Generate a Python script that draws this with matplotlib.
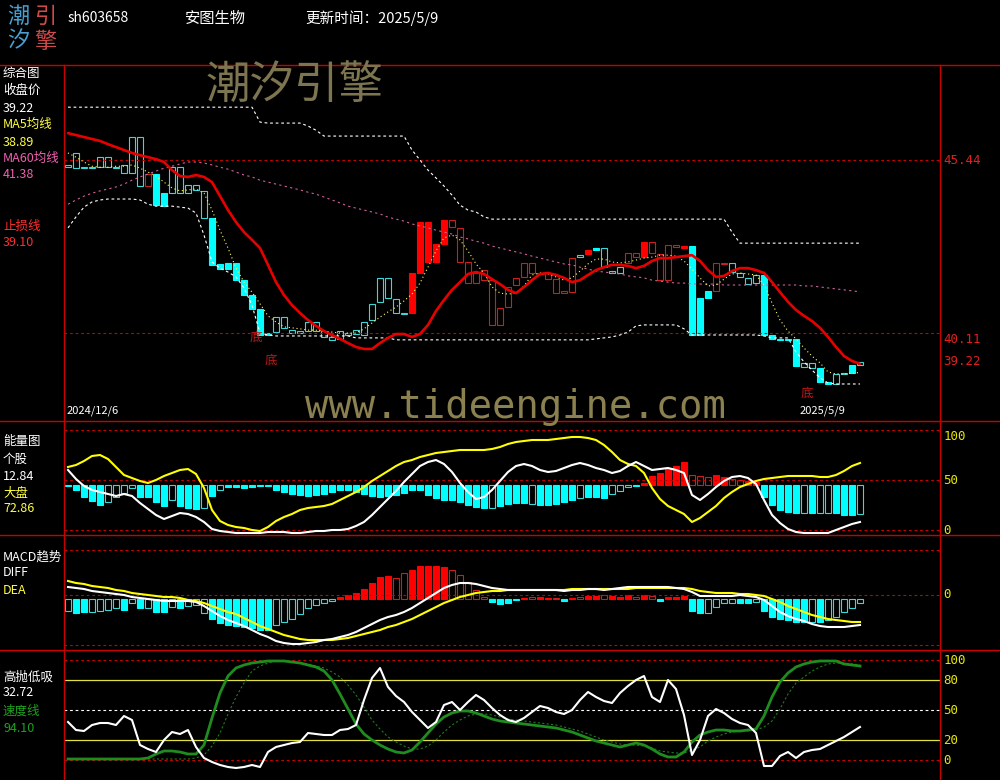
import numpy as np
import matplotlib
matplotlib.use("Agg")
import matplotlib.pyplot as plt
from matplotlib.lines import Line2D

plt.rcParams['font.family'] = ['Noto Sans CJK SC', 'DejaVu Sans']

# ---------------- data ----------------
code = "sh603658"
name = "安图生物"
first_date = "2024/12/6"
last_date = "2025/5/9"

# candle bodies (no wicks shown): upper / lower edge of each body
body_hi = [45.29, 45.66, 45.22, 45.22, 45.53, 45.53, 45.22, 45.29, 46.15, 46.15,
           45.01, 45.01, 44.42, 45.22, 45.22, 44.67, 44.67, 44.49, 43.65, 42.24,
           42.27, 42.27, 41.74, 41.28, 40.85, 40.11, 40.60, 40.60, 40.20, 40.17,
           40.45, 40.45, 40.17, 39.99, 40.17, 40.11, 40.20, 40.45, 41.01, 41.81,
           41.81, 41.16, 40.73, 41.96, 43.53, 43.53, 42.85, 43.59, 43.59, 43.35,
           42.30, 41.96, 42.05, 41.74, 40.88, 41.53, 41.81, 42.27, 42.27, 41.96,
           41.96, 41.77, 41.41, 42.42, 42.51, 42.67, 42.73, 42.73, 42.02, 42.14,
           42.58, 42.58, 42.91, 42.91, 42.55, 42.82, 42.82, 42.79, 42.79, 41.19,
           41.41, 42.27, 42.27, 42.27, 41.96, 41.81, 41.90, 41.90, 40.05, 39.93,
           39.93, 39.93, 39.19, 39.19, 39.03, 38.60, 38.85, 38.88, 39.13, 39.22]
body_lo = [45.22, 45.19, 45.19, 45.19, 45.22, 45.22, 45.19, 45.04, 45.04, 44.64,
           44.64, 44.05, 44.02, 44.42, 44.42, 44.42, 44.52, 43.65, 42.21, 42.08,
           42.08, 41.74, 41.28, 40.85, 40.05, 40.05, 40.14, 40.27, 40.11, 40.11,
           40.17, 40.17, 39.99, 39.90, 39.93, 40.05, 40.08, 40.05, 40.51, 41.07,
           41.19, 40.73, 40.70, 40.73, 41.96, 42.30, 42.30, 42.85, 43.38, 42.30,
           41.65, 41.65, 41.74, 40.36, 40.36, 40.91, 41.59, 41.84, 41.96, 41.93,
           41.77, 41.34, 41.34, 41.37, 42.45, 42.55, 42.67, 42.14, 41.96, 41.96,
           42.27, 42.45, 42.45, 42.58, 41.74, 41.74, 42.76, 42.73, 40.05, 40.05,
           41.19, 41.41, 42.24, 41.99, 41.84, 41.62, 41.65, 40.05, 39.93, 39.90,
           39.90, 39.10, 39.06, 39.03, 38.60, 38.54, 38.54, 38.85, 38.88, 39.13]
# C = cyan filled, c = cyan hollow, R = red filled, r = red hollow
kline_style = ("cccccccccc" "rCCcccccCC" "CCCCCCcccc" "cccccccccc" "cccRRRRRrr"
               "rrrrrrrrrr" "rrrrcRCccc" "rrRrrrrRCC" "CrrccccCCC" "CCccCCccCc")

trend_line = [46.27, 46.21, 46.15, 46.09, 46.03, 45.93, 45.84, 45.75, 45.66, 45.59,
              45.53, 45.47, 45.38, 45.13, 44.95, 44.92, 44.98, 44.92, 44.76, 44.33,
              43.90, 43.53, 43.22, 42.98, 42.73, 42.21, 41.68, 41.28, 40.97, 40.73,
              40.51, 40.33, 40.17, 40.05, 39.93, 39.80, 39.68, 39.62, 39.62, 39.80,
              39.96, 40.08, 40.08, 39.99, 40.08, 40.36, 40.79, 41.13, 41.44, 41.68,
              41.93, 41.99, 41.93, 41.77, 41.62, 41.44, 41.34, 41.53, 41.74, 41.93,
              41.96, 41.90, 41.81, 41.68, 41.74, 41.90, 42.05, 42.14, 42.21, 42.21,
              42.18, 42.11, 42.18, 42.33, 42.42, 42.42, 42.45, 42.48, 42.51, 42.33,
              42.05, 41.84, 41.87, 42.02, 42.11, 42.11, 42.05, 41.96, 41.68, 41.37,
              41.07, 40.82, 40.64, 40.48, 40.27, 39.99, 39.68, 39.40, 39.25, 39.16]
ma5 = [45.66, 45.53, 45.38, 45.25, 45.22, 45.22, 45.25, 45.25, 45.29, 45.19,
       45.07, 44.95, 44.76, 44.58, 44.49, 44.52, 44.55, 44.42, 43.90, 43.28,
       42.73, 42.11, 41.68, 41.37, 41.01, 40.64, 40.45, 40.30, 40.27, 40.24,
       40.20, 40.20, 40.17, 40.14, 40.11, 40.11, 40.11, 40.24, 40.42, 40.60,
       40.76, 40.91, 41.10, 41.31, 41.65, 42.14, 42.64, 43.04, 43.13, 42.98,
       42.64, 42.24, 41.96, 41.53, 41.34, 41.31, 41.34, 41.56, 41.90, 41.96,
       41.93, 41.84, 41.74, 41.81, 42.02, 42.24, 42.39, 42.39, 42.30, 42.27,
       42.30, 42.36, 42.42, 42.45, 42.51, 42.51, 42.48, 42.33, 42.08, 41.81,
       41.56, 41.59, 41.77, 41.93, 41.96, 41.93, 41.90, 41.59, 41.04, 40.51,
       40.17, 39.93, 39.65, 39.40, 39.19, 38.91, 38.85, 38.85, 38.88, 38.89]
ma60 = [44.08, 44.21, 44.33, 44.42, 44.49, 44.55, 44.61, 44.70, 44.82, 44.92,
        45.01, 45.10, 45.19, 45.25, 45.32, 45.38, 45.38, 45.35, 45.29, 45.22,
        45.16, 45.07, 44.98, 44.92, 44.82, 44.76, 44.70, 44.64, 44.58, 44.52,
        44.45, 44.39, 44.30, 44.21, 44.12, 44.02, 43.96, 43.90, 43.84, 43.78,
        43.68, 43.62, 43.56, 43.47, 43.41, 43.35, 43.28, 43.22, 43.16, 43.07,
        43.01, 42.94, 42.88, 42.79, 42.73, 42.67, 42.61, 42.55, 42.48, 42.42,
        42.36, 42.30, 42.24, 42.21, 42.14, 42.08, 42.02, 41.99, 41.96, 41.93,
        41.87, 41.84, 41.81, 41.74, 41.71, 41.68, 41.65, 41.65, 41.62, 41.62,
        41.62, 41.62, 41.59, 41.59, 41.59, 41.59, 41.59, 41.59, 41.59, 41.59,
        41.59, 41.59, 41.56, 41.56, 41.53, 41.50, 41.47, 41.44, 41.41, 41.38]
band_up = [47.07, 47.07, 47.07, 47.07, 47.07, 47.07, 47.07, 47.07, 47.07, 47.07,
           47.07, 47.07, 47.07, 47.07, 47.07, 47.07, 47.07, 47.07, 47.07, 47.07,
           47.07, 47.07, 47.07, 47.07, 46.61, 46.58, 46.58, 46.58, 46.58, 46.58,
           46.49, 46.36, 46.18, 46.18, 46.18, 46.18, 46.18, 46.18, 46.18, 46.18,
           46.18, 46.18, 46.18, 45.75, 45.44, 45.13, 44.89, 44.64, 44.36, 44.05,
           43.90, 43.84, 43.69, 43.62, 43.62, 43.62, 43.62, 43.62, 43.62, 43.62,
           43.62, 43.62, 43.62, 43.62, 43.62, 43.62, 43.62, 43.62, 43.62, 43.62,
           43.62, 43.62, 43.62, 43.62, 43.62, 43.62, 43.62, 43.62, 43.62, 43.62,
           43.62, 43.62, 43.62, 43.22, 42.88, 42.88, 42.88, 42.88, 42.88, 42.88,
           42.88, 42.88, 42.88, 42.88, 42.88, 42.88, 42.88, 42.88, 42.88, 42.88]
band_dn = [43.35, 43.69, 43.99, 44.15, 44.21, 44.24, 44.24, 44.24, 44.24, 44.21,
           44.08, 44.02, 44.02, 44.02, 43.99, 43.96, 43.81, 43.13, 42.30, 42.11,
           41.99, 41.84, 41.50, 40.97, 40.11, 40.05, 40.02, 40.02, 40.02, 40.02,
           40.02, 40.02, 40.02, 40.02, 40.02, 40.02, 39.96, 39.96, 39.96, 39.96,
           39.96, 39.90, 39.90, 39.90, 39.90, 39.90, 39.90, 39.90, 39.90, 39.90,
           39.90, 39.90, 39.90, 39.90, 39.90, 39.90, 39.90, 39.90, 39.90, 39.90,
           39.90, 39.90, 39.90, 39.90, 39.90, 39.90, 39.93, 39.96, 39.99, 40.05,
           40.14, 40.33, 40.36, 40.36, 40.36, 40.36, 40.36, 40.24, 40.05, 40.05,
           40.05, 40.05, 40.05, 40.05, 40.05, 40.05, 40.05, 40.02, 39.96, 39.96,
           39.96, 39.53, 39.22, 38.97, 38.73, 38.57, 38.54, 38.54, 38.54, 38.54]
price_marks = [45.44, 40.11]
bottom_marks = [(23.5, 39.99), (25.4, 39.28), (92.4, 38.26)]

# energy panel (0..100), bars hang from the 45 level
energy_bar = [44, 40, 33, 29, 25, 28, 33, 37, 42, 33,
              33, 28, 24, 30, 24, 22, 21, 22, 34, 40,
              43, 43, 42, 43, 44, 44, 40, 38, 36, 35,
              34, 35, 36, 38, 40, 40, 38, 36, 34, 33,
              34, 35, 37, 40, 40, 35, 32, 30, 30, 28,
              25, 23, 22, 22, 24, 26, 27, 27, 26, 25,
              25, 26, 28, 30, 32, 33, 33, 32, 36, 39,
              43, 44, 47, 54, 57, 61, 64, 68, 55, 54,
              53, 55, 53, 51, 50, 49, 48, 33, 25, 20,
              18, 17, 17, 17, 17, 17, 17, 15, 15, 16]
energy_style = ("CCCCCccccC" "CCCcCCCcCc" "CCCCCCCCCC" "CCCCCCCCCC" "CCCCCCCCCC"
                "CCCcCCCCcC" "CCCCcCCCcc" "cCRRRRRRrr" "rRRrrRRCCC" "CCcCccCCCc")
energy_market = [63, 65, 69, 74, 75, 71, 63, 55, 52, 49,
                 47, 50, 54, 57, 60, 61, 56, 42, 20, 9,
                 5, 3, 2, 0, -1, 3, 9, 13, 16, 20,
                 22, 23, 24, 26, 30, 34, 38, 43, 49, 54,
                 59, 64, 68, 70, 73, 75, 77, 78, 79, 80,
                 80, 80, 80, 81, 83, 86, 88, 89, 90, 90,
                 90, 91, 92, 93, 93, 92, 90, 85, 78, 70,
                 66, 64, 57, 42, 31, 24, 20, 16, 8, 12,
                 18, 24, 32, 38, 43, 46, 49, 51, 52, 53,
                 54, 54, 54, 54, 53, 53, 55, 59, 64, 67]
energy_stock = [60, 51, 44, 40, 38, 36, 34, 36, 34, 27,
                21, 15, 11, 14, 17, 16, 13, 8, 1, -1,
                -2, -3, -3, -3, -3, -2, -2, -2, -3, -3,
                -2, -1, -1, 0, 0, 1, 4, 8, 15, 23,
                31, 39, 48, 56, 64, 68, 70, 66, 58, 47,
                38, 31, 33, 40, 49, 58, 64, 66, 64, 60,
                58, 59, 62, 65, 67, 65, 62, 60, 57, 59,
                64, 68, 64, 60, 61, 62, 60, 57, 35, 30,
                36, 43, 49, 53, 54, 52, 46, 30, 15, 7,
                1, -2, -3, -3, -3, -3, 0, 3, 6, 8]

# MACD panel
macd_bar = [-0.32, -0.36, -0.34, -0.34, -0.32, -0.30, -0.26, -0.30, -0.16, -0.26,
            -0.26, -0.34, -0.34, -0.24, -0.26, -0.22, -0.20, -0.36, -0.48, -0.56,
            -0.60, -0.62, -0.64, -0.66, -0.70, -0.70, -0.60, -0.54, -0.48, -0.38,
            -0.26, -0.20, -0.16, -0.12, -0.04, 0.00, 0.04, 0.12, 0.24, 0.36,
            0.38, 0.34, 0.44, 0.50, 0.58, 0.58, 0.58, 0.56, 0.50, 0.40,
            0.26, 0.10, -0.04, -0.14, -0.18, -0.16, -0.10, -0.06, -0.04, -0.04,
            -0.06, -0.06, -0.12, -0.05, -0.04, -0.02, -0.02, 0.00, -0.02, -0.04,
            0.00, -0.04, 0.00, -0.02, -0.12, -0.04, -0.04, -0.02, -0.32, -0.36,
            -0.36, -0.24, -0.16, -0.16, -0.16, -0.16, -0.14, -0.32, -0.44, -0.48,
            -0.50, -0.54, -0.54, -0.54, -0.54, -0.50, -0.44, -0.34, -0.26, -0.16]
macd_style = ("cCCccccCcC" "cCCcCcccCC" "CCCCCCcccc" "ccccRRRRRR" "RrrRRRRRrr"
              "rrrCCCCRrR" "RrCRrRRrRR" "RrRrCRRRCC" "ccccCCcCCC" "CCCcCccccc")
macd_diff = [0.16, 0.14, 0.12, 0.08, 0.06, 0.04, 0.02, 0.00, -0.04, -0.06,
             -0.08, -0.10, -0.12, -0.12, -0.12, -0.12, -0.14, -0.22, -0.32, -0.42,
             -0.50, -0.56, -0.62, -0.70, -0.78, -0.84, -0.92, -0.96, -0.98, -0.98,
             -0.96, -0.94, -0.90, -0.88, -0.84, -0.80, -0.74, -0.66, -0.58, -0.50,
             -0.44, -0.40, -0.34, -0.26, -0.16, -0.06, 0.04, 0.14, 0.20, 0.24,
             0.24, 0.22, 0.18, 0.14, 0.12, 0.10, 0.10, 0.10, 0.10, 0.10,
             0.10, 0.10, 0.08, 0.10, 0.10, 0.12, 0.12, 0.10, 0.12, 0.14,
             0.16, 0.16, 0.16, 0.16, 0.16, 0.16, 0.14, 0.12, 0.06, -0.02,
             -0.02, -0.02, -0.02, -0.02, 0.00, -0.02, -0.04, -0.10, -0.22, -0.34,
             -0.42, -0.48, -0.52, -0.58, -0.62, -0.64, -0.64, -0.64, -0.62, -0.60]
macd_dea = [0.28, 0.24, 0.22, 0.18, 0.16, 0.14, 0.10, 0.08, 0.04, 0.02,
            0.00, -0.02, -0.04, -0.04, -0.06, -0.10, -0.12, -0.16, -0.22, -0.28,
            -0.34, -0.38, -0.46, -0.54, -0.62, -0.68, -0.74, -0.80, -0.84, -0.88,
            -0.90, -0.90, -0.90, -0.90, -0.88, -0.86, -0.82, -0.78, -0.74, -0.70,
            -0.64, -0.60, -0.54, -0.48, -0.40, -0.32, -0.24, -0.16, -0.10, -0.04,
            0.00, 0.04, 0.06, 0.08, 0.08, 0.10, 0.10, 0.10, 0.10, 0.10,
            0.10, 0.10, 0.10, 0.12, 0.12, 0.12, 0.12, 0.12, 0.12, 0.12,
            0.12, 0.14, 0.14, 0.14, 0.14, 0.14, 0.14, 0.14, 0.12, 0.08,
            0.06, 0.04, 0.04, 0.04, 0.02, 0.02, 0.00, -0.02, -0.08, -0.14,
            -0.22, -0.28, -0.34, -0.40, -0.44, -0.48, -0.50, -0.52, -0.54, -0.54]
macd_limits = [0.9, -1.0]

# 高抛低吸 panel
hl_white = [38, 30, 29, 35, 37, 37, 35, 44, 40, 15,
            11, 8, 20, 28, 26, 30, 13, 2, -2, -5,
            -7, -8, -7, -5, -7, 8, 13, 15, 17, 18,
            27, 26, 25, 25, 30, 31, 35, 60, 82, 92,
            73, 64, 58, 48, 40, 32, 38, 55, 58, 50,
            58, 65, 60, 52, 45, 40, 38, 42, 48, 54,
            52, 48, 46, 50, 60, 68, 63, 59, 57, 67,
            74, 80, 84, 63, 58, 80, 71, 45, 5, 20,
            44, 51, 47, 41, 37, 35, 27, -6, -6, 4,
            8, 2, 8, 10, 11, 15, 19, 23, 28, 33]
hl_speed = [1, 1, 1, 1, 1, 1, 1, 1, 1, 1,
            2, 6, 9, 9, 8, 6, 6, 15, 42, 67,
            84, 92, 95, 97, 98, 99, 99, 99, 98, 97,
            95, 93, 89, 80, 66, 51, 36, 26, 20, 15,
            11, 8, 7, 10, 18, 27, 36, 43, 47, 49,
            49, 47, 44, 41, 39, 38, 37, 36, 35, 34,
            33, 32, 30, 28, 25, 22, 19, 17, 15, 13,
            15, 17, 15, 11, 6, 3, 3, 8, 18, 25,
            28, 30, 30, 29, 29, 30, 31, 44, 63, 78,
            87, 93, 96, 98, 99, 99, 99, 96, 95, 94]
hl_signal = [1, 1, 1, 1, 1, 1, 1, 1, 1, 1,
             1, 1, 1, 1, 1, 1, 2, 5, 14, 27,
             46, 63, 77, 89, 94, 97, 99, 99, 98, 97,
             96, 94, 92, 88, 83, 75, 65, 53, 40, 31,
             23, 18, 14, 11, 11, 14, 20, 28, 35, 40,
             44, 46, 46, 45, 43, 41, 40, 39, 38, 37,
             36, 35, 33, 31, 29, 26, 23, 20, 18, 16,
             15, 15, 14, 12, 9, 8, 7, 7, 10, 13,
             19, 23, 26, 28, 29, 29, 30, 33, 39, 51,
             66, 77, 83, 89, 93, 96, 97, 97, 96, 95]

# ---------------- drawing ----------------
BAR_STYLE = {'C': ('#00ffff', True), 'c': ('#3cd8d8', False),
             'R': ('#ff0000', True), 'r': ('#c82020', False)}
GRID_RED = '#c80000'

N = len(body_hi)
x = np.arange(N)

fig = plt.figure(figsize=(10, 7.8), dpi=100, facecolor='black')


def fpos(px, py):
    return px / 1000, 1 - py / 780


def panel(top, bottom, ylim):
    ax = fig.add_axes([0.064, 1 - bottom / 780, 0.876, (bottom - top) / 780])
    ax.axis('off')
    ax.set_xlim(-0.5, 109)
    ax.set_ylim(*ylim)
    return ax


def draw_bars(ax, lo, hi, styles, width=0.75):
    lo = np.asarray(lo, float)
    hi = np.asarray(hi, float)
    styles = np.array(list(styles))
    for key, (col, filled) in BAR_STYLE.items():
        m = styles == key
        if not m.any():
            continue
        ax.bar(x[m], hi[m] - lo[m], bottom=lo[m], width=width,
               color=col if filled else 'none', edgecolor=col, linewidth=0.8)


def dashed(ax, y, color=GRID_RED):
    ax.axhline(y, color=color, lw=0.8, ls=(0, (2.5, 2.5)))


def label(px, py, s, color, size=9, **kw):
    fx, fy = fpos(px, py)
    fig.text(fx, fy, s, color=color, fontsize=size, va='center', ha='left', **kw)


def right_label(ax, y, s, color, va='center'):
    ax.text(1.004, y, s, color=color, fontsize=9, va=va, ha='left',
            transform=ax.get_yaxis_transform(), family='DejaVu Sans Mono')


# main price panel
ax1 = panel(65, 420, (37.43, 48.37))
for p in price_marks:
    dashed(ax1, p)
ax1.plot(x, band_up, color='white', lw=0.8, ls=(0, (2.5, 2.5)))
ax1.plot(x, band_dn, color='white', lw=0.8, ls=(0, (2.5, 2.5)))
ax1.plot(x, ma60, color='#d0609a', lw=0.8, ls=(0, (2, 3)))
draw_bars(ax1, body_lo, body_hi, kline_style)
ax1.plot(x, ma5, color='#ffff66', lw=0.8, ls=(0, (1, 2.5)))
ax1.plot(x, trend_line, color='#e60000', lw=1.9, solid_capstyle='round')
for bx, by in bottom_marks:
    ax1.text(bx, by, '底', color='#c01818', fontsize=9, ha='center', va='center')
right_label(ax1, 45.44, '45.44', '#e02020')
right_label(ax1, 40.11, '40.11', '#e02020', va='top')
right_label(ax1, body_hi[-1], f'{body_hi[-1]:.2f}', '#e02020')

# energy panel
ax2 = panel(421, 535, (-5, 109))
for lv in (100, 50, 0):
    dashed(ax2, lv)
e = np.asarray(energy_bar, float)
draw_bars(ax2, np.minimum(e, 45), np.maximum(e, 45), energy_style)
ax2.plot(x, energy_market, color='#ffff00', lw=1.5)
ax2.plot(x, energy_stock, color='white', lw=1.5)
right_label(ax2, 100, '100', '#e8e800', va='top')
right_label(ax2, 50, '50', '#e8e800')
right_label(ax2, 0, '0', '#e8e800')

# MACD panel
ax3 = panel(535, 650, (-1.1, 1.2))
for lv in macd_limits + [0]:
    dashed(ax3, lv)
mb = np.asarray(macd_bar, float)
base = -0.08
draw_bars(ax3, np.minimum(mb, base), np.maximum(mb, base), macd_style)
ax3.plot(x, macd_dea, color='#ffff00', lw=1.5)
ax3.plot(x, macd_diff, color='white', lw=1.5)
right_label(ax3, 0, '0', '#e8e800')

# 高抛低吸 panel
ax4 = panel(650, 780, (-20, 110))
dashed(ax4, 100)
dashed(ax4, 0)
dashed(ax4, 50, color='white')
ax4.axhline(80, color='#e0e040', lw=0.9)
ax4.axhline(20, color='#e0e040', lw=0.9)
ax4.plot(x, hl_signal, color='#1f7a1f', lw=0.8, ls=(0, (2, 2)))
ax4.plot(x, hl_speed, color='#1e8c1e', lw=2.0)
ax4.plot(x, hl_white, color='white', lw=1.5)
for lv in (100, 80, 50, 20, 0):
    right_label(ax4, lv, str(lv), '#e8e800')

# frame lines
for py in (65, 421, 535, 650):
    fig.add_artist(Line2D([0, 1], [1 - py / 780] * 2, color=GRID_RED, lw=1.0))
for px in (64, 940):
    fig.add_artist(Line2D([px / 1000] * 2, [0, 1 - 65 / 780], color=GRID_RED, lw=1.0))

# header
for ch, px, py, col in [('潮', 18, 16, '#4a9fd0'), ('引', 45, 16, '#d04a4a'),
                        ('汐', 18, 41, '#4a9fd0'), ('擎', 45, 41, '#d04a4a')]:
    fx, fy = fpos(px, py)
    fig.text(fx, fy, ch, color=col, fontsize=16, ha='center', va='center')
label(68, 18, code, 'white', size=10)
label(185, 18, name, 'white', size=11)
label(305, 18, f'更新时间：{last_date}', 'white', size=10.5)

# watermarks
fx, fy = fpos(295, 85)
fig.text(fx, fy, '潮汐引擎', color='#7d7550', fontsize=32, ha='center', va='center')
fx, fy = fpos(515, 407)
fig.text(fx, fy, 'www.tideengine.com', color='#8a8050', fontsize=28,
         ha='center', va='center', family='DejaVu Sans Mono')

# dates
label(67, 411, first_date, 'white', size=8)
label(800, 411, last_date, 'white', size=8)

# left legends
label(3, 73, '综合图', 'white')
label(3, 90, '收盘价', 'white')
label(3, 108, f'{body_hi[-1]:.2f}', 'white')
label(3, 124, 'MA5均线', '#ffff40')
label(3, 142, f'{ma5[-1]:.2f}', '#ffff40')
label(3, 158, 'MA60均线', '#f060b0')
label(3, 175, f'{ma60[-1]:.2f}', '#f060b0')
label(3, 226, '止损线', '#ff3030')
label(3, 243, '39.10', '#ff3030')

label(3, 441, '能量图', 'white')
label(3, 459, '个股', 'white')
label(3, 476, '12.84', 'white')
label(3, 493, '大盘', '#ffff40')
label(3, 509, '72.86', '#ffff40')

label(3, 557, 'MACD趋势', 'white')
label(3, 573, 'DIFF', 'white')
label(3, 591, 'DEA', '#ffff40')

label(3, 677, '高抛低吸', 'white')
label(3, 693, '32.72', 'white')
label(3, 711, '速度线', '#20a020')
label(3, 728, '94.10', '#20a020')

fig.savefig('out.png', dpi=100, facecolor='black')
